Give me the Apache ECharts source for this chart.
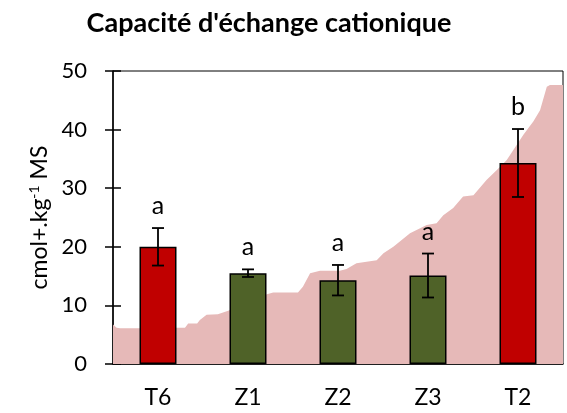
<!DOCTYPE html>
<html>
<head>
<meta charset="utf-8">
<script src="https://cdn.jsdelivr.net/npm/echarts@6/dist/echarts.min.js"></script>
<style>
  html, body, #main { width: 567px; height: 413px; margin: 0; background: #fff; }
</style>
</head>
<body>
<div id="main"></div>
<script>
// bars
var categories = ['T6', 'Z1', 'Z2', 'Z3', 'T2']
var means = [20.0, 15.5, 14.3, 15.1, 34.3]
var errors = [3.2, 0.65, 2.6, 3.75, 5.8]
var letters = ['a', 'a', 'a', 'a', 'b']
var barColors = ['#C00000', '#4F6228', '#4F6228', '#4F6228', '#C00000']

// background distribution (rank in % of width, value)
var areaRank = [0, 0.8, 1.6, 5.6, 14.2, 16, 16.7, 18.7, 19.3, 20.8, 23.3, 25.6, 34.2, 35.6, 41.1, 42.2, 43.8, 46, 50.4, 51.9, 54.1, 58.6, 60.1, 62.3, 66, 69.7, 71.9, 73.4, 75.6, 77.8, 80.1, 83, 85.3, 87.5, 91.2, 93.4, 94.9, 96.4, 97.1, 100]
var areaValue = [6.75, 6.2, 6.1, 6.1, 6.2, 6.2, 6.9, 6.9, 7.5, 8.4, 8.5, 9.1, 11.9, 12.2, 12.2, 13.2, 15.5, 15.9, 15.9, 16.2, 17.2, 17.7, 18.9, 20.0, 22.3, 23.7, 24.0, 25.4, 26.6, 28.6, 28.8, 31.4, 33.1, 34.8, 39.1, 41.4, 43.3, 47.3, 47.6, 47.6]

var yTicks = [0, 10, 20, 30, 40, 50]

var font = 'Lato'
var chart = echarts.init(document.getElementById('main'))

var areaData = areaRank.map(function (r, i) { return [r, areaValue[i]] })
var errData = means.map(function (m, i) { return [i, m - errors[i], m + errors[i], letters[i]] })

chart.setOption({
  animation: false,
  title: {
    text: "Capacité d'échange cationique",
    left: 264, top: 5, textAlign: 'center',
    textStyle: { fontFamily: font, fontWeight: 'bold', fontSize: 27, color: '#000' }
  },
  grid: { left: 113, right: 4, top: 71, bottom: 49, show: true, borderColor: '#000', borderWidth: 1 },
  xAxis: [
    {
      type: 'category', data: categories,
      axisLine: { lineStyle: { color: '#000', width: 1.5 } },
      axisTick: { length: 8, lineStyle: { color: '#000', width: 1.5 } },
      axisLabel: { color: '#000', fontFamily: font, fontSize: 23, margin: 22 }
    },
    {
      type: 'category', data: categories, position: 'bottom',
      axisLine: { show: false },
      axisTick: { inside: true, length: 8, lineStyle: { color: '#000', width: 1.5 } },
      axisLabel: { show: false }
    },
    { type: 'value', min: 0, max: 100, show: false }
  ],
  yAxis: [
    {
      type: 'value', min: yTicks[0], max: yTicks[yTicks.length - 1], interval: 10,
      splitLine: { show: false },
      axisLine: { show: true, lineStyle: { color: '#000', width: 1.5 } },
      axisTick: { show: true, length: 8, lineStyle: { color: '#000', width: 1.5 } },
      axisLabel: { color: '#000', fontFamily: font, fontSize: 22, margin: 26 },
      name: '{a|cmol+.kg}{s|-1}{a| MS}',
      nameLocation: 'middle', nameGap: 60, nameRotate: 90,
      nameTextStyle: {
        rich: {
          a: { fontFamily: font, fontSize: 23, color: '#000', lineHeight: 24 },
          s: { fontFamily: font, fontSize: 14, color: '#000', verticalAlign: 'top', lineHeight: 24, padding: [0, 0, 9, 0] }
        }
      }
    },
    {
      type: 'value', min: yTicks[0], max: yTicks[yTicks.length - 1], interval: 10, position: 'left',
      splitLine: { show: false },
      axisLine: { show: false },
      axisTick: { show: true, inside: true, length: 8, lineStyle: { color: '#000', width: 1.5 } },
      axisLabel: { show: false }
    }
  ],
  series: [
    {
      type: 'line', xAxisIndex: 2, yAxisIndex: 0, data: areaData,
      symbol: 'none', smooth: false, z: 1,
      lineStyle: { width: 0 },
      areaStyle: { color: '#E6B9B8', opacity: 1 }
    },
    {
      type: 'bar', xAxisIndex: 0, yAxisIndex: 0, barWidth: 37, z: 3,
      data: means.map(function (v, i) {
        return { value: v, itemStyle: { color: barColors[i] } }
      }),
      itemStyle: { borderColor: '#000', borderWidth: 1.5 }
    },
    {
      type: 'custom', xAxisIndex: 0, yAxisIndex: 0, z: 5,
      data: errData,
      renderItem: function (params, api) {
        var lo = api.coord([api.value(0), api.value(1)])
        var hi = api.coord([api.value(0), api.value(2)])
        var hw = 6
        var st = { stroke: '#000', lineWidth: 1.8 }
        return {
          type: 'group',
          children: [
            { type: 'line', shape: { x1: hi[0], y1: hi[1], x2: lo[0], y2: lo[1] }, style: st },
            { type: 'line', shape: { x1: hi[0] - hw, y1: hi[1], x2: hi[0] + hw, y2: hi[1] }, style: st },
            { type: 'line', shape: { x1: lo[0] - hw, y1: lo[1], x2: lo[0] + hw, y2: lo[1] }, style: st },
            {
              type: 'text', x: hi[0], y: hi[1] - 22,
              style: { text: letters[params.dataIndex], fontFamily: font, fontSize: 25, fill: '#000', align: 'center', verticalAlign: 'middle' }
            }
          ]
        }
      }
    }
  ]
})
</script>
</body>
</html>
